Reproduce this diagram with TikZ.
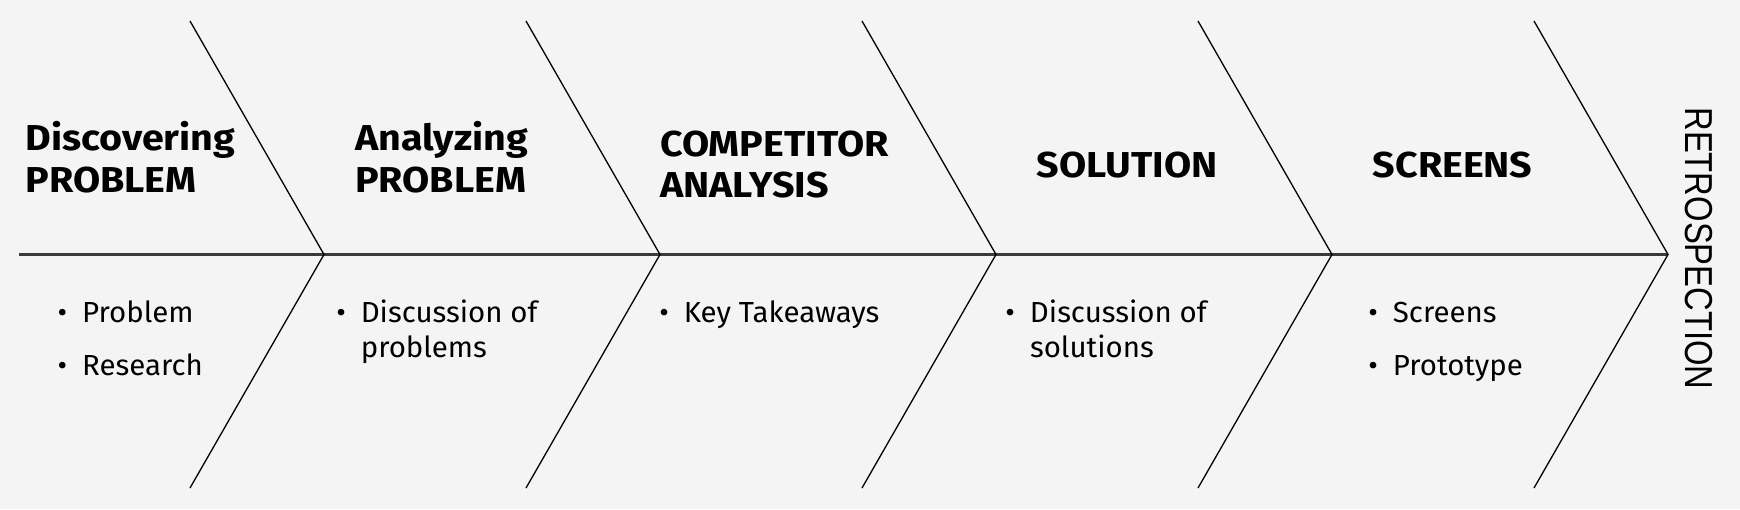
\documentclass[tikz,border=0pt]{standalone}
\usepackage{fontspec}
\setmainfont{Fira Sans}
\newfontfamily\headfont[FakeStretch=1.095]{Fira Sans}
\newfontfamily\itemfont[FakeStretch=1.015]{Fira Sans}
\newfontfamily\retrofont[FakeStretch=0.84]{Liberation Sans}
\definecolor{bg}{HTML}{F4F4F4}
\definecolor{spine}{HTML}{3A3A3A}
\begin{document}
\begin{tikzpicture}[x=1pt,y=-1pt,
  head/.style={inner sep=0pt, anchor=base west, font=\headfont\fontsize{36}{42}\selectfont\bfseries, text=black},
  item/.style={inner sep=0pt, anchor=base west, font=\itemfont\fontsize{29}{34}\selectfont, text=black},
  rib/.style={draw=black, line width=1.3pt},
  spineline/.style={draw=spine, line width=2.5pt}]
\fill[bg] (0,0) rectangle (1740,509);
\useasboundingbox (0,0) rectangle (1740,509);
% vertices
\coordinate (s) at (19,254.5);
\foreach \i/\vx in {1/324,2/660,3/996,4/1332,5/1668}{
  \coordinate (v\i) at (\vx,254.5);
  \coordinate (t\i) at (\vx-134,21);
  \coordinate (b\i) at (\vx-134,488);
}
\draw[spineline] (s) -- (v5);
\foreach \i in {1,...,5}{
  \draw[rib] (t\i) -- (v\i) -- (b\i);
}
% headings
\node[head] (h1a) at (25.5,150) {Discovering};
\node[head] (h1b) at (25.5,192) {PROBLEM};
\node[head] (h2a) at (355,150) {Analyzing};
\node[head] (h2b) at (355,192) {PROBLEM};
\node[head] (h3a) at (660,156) {COMPETITOR};
\node[head] (h3b) at (660,197) {ANALYSIS};
\node[head] (h4) at (1036.5,177) {SOLUTION};
\node[head] (h5) at (1372.6,177) {SCREENS};
% items
\newcommand{\bul}{\llap{•\hspace{15pt}}}
\node[item] (i1a) at (82,322.7) {\bul Problem};
\node[item] (i1b) at (82,375) {\bul Research};
\node[item] (i2a) at (360.6,322.7) {\bul Discussion of};
\node[item] (i2b) at (360.6,357) {problems};
\node[item] (i3a) at (683.6,322.7) {\bul Key Takeaways};
\node[item] (i4a) at (1029.8,322.7) {\bul Discussion of};
\node[item] (i4b) at (1029.8,357) {solutions};
\node[item] (i5a) at (1392.7,322.7) {\bul Screens};
\node[item] (i5b) at (1392.7,375) {\bul Prototype};
% retrospection
\node[inner sep=0pt, rotate=-90, font=\retrofont\fontsize{39}{39}\selectfont] (retro) at (1699,248.5) {RETROSPECTION};
\end{tikzpicture}
\end{document}
